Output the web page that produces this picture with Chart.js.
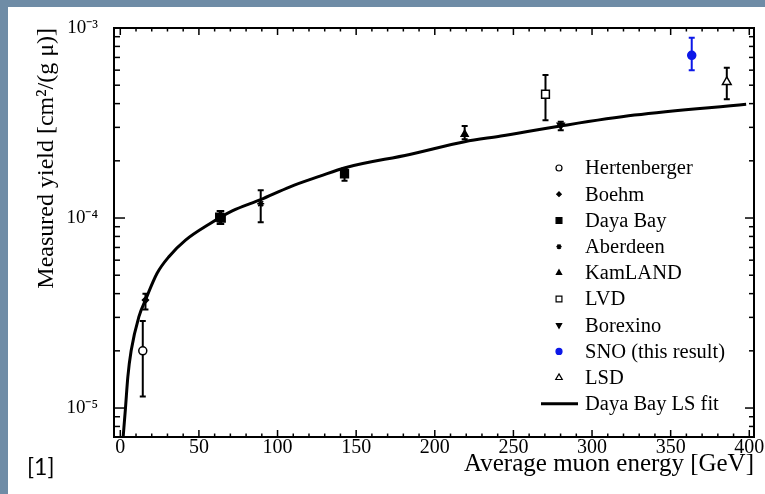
<!DOCTYPE html>
<html>
<head>
<meta charset="utf-8">
<script src="https://cdn.jsdelivr.net/npm/chart.js@4.4.1/dist/chart.umd.min.js"></script>
<style>
  html, body { margin: 0; padding: 0; }
  body { width: 765px; height: 494px; background: #6f8ca6; position: relative; overflow: hidden; }
  .panel { position: absolute; left: 8px; top: 7px; right: 0; bottom: 0; background: #fff; }
  .ref { position: absolute; left: 27px; top: 452px; font: 23px Lato, 'Open Sans', sans-serif; color: #000; }
  #chart { position: absolute; left: 0; top: 0; }
</style>
</head>
<body>
<div class="panel"></div>
<canvas id="chart" width="765" height="494"></canvas>
<div class="ref">[1]</div>
<script>
const xTicks = [0, 50, 100, 150, 200, 250, 300, 350, 400];
const yTicks = [1e-5, 1e-4, 1e-3];
const yTickLabels = ['10⁻⁵', '10⁻⁴', '10⁻³'];

// values: energy [GeV], yield, error bar low / high
const hertenbergerE = [14.3];
const hertenbergerY = [2.0e-5];
const hertenbergerLo = [1.15e-5];
const hertenbergerHi = [2.87e-5];

const boehmE = [16.0];
const boehmY = [3.7e-5];
const boehmLo = [3.3e-5];
const boehmHi = [4.0e-5];

const dayaBayE = [63.2, 64.2, 142.6];
const dayaBayY = [1.01e-4, 1.0e-4, 1.71e-4];
const dayaBayLo = [0.93e-4, 0.93e-4, 1.57e-4];
const dayaBayHi = [1.09e-4, 1.09e-4, 1.83e-4];

const aberdeenE = [89.3];
const aberdeenY = [1.19e-4];
const aberdeenLo = [0.95e-4];
const aberdeenHi = [1.40e-4];

const kamlandE = [219];
const kamlandY = [2.76e-4];
const kamlandLo = [2.6e-4];
const kamlandHi = [3.05e-4];

const lvdE = [270.4];
const lvdY = [4.48e-4];
const lvdLo = [3.27e-4];
const lvdHi = [5.66e-4];

const borexinoE = [280.1];
const borexinoY = [3.08e-4];
const borexinoLo = [2.9e-4];
const borexinoHi = [3.21e-4];

const snoE = [363.4];
const snoY = [7.18e-4];
const snoLo = [5.99e-4];
const snoHi = [8.89e-4];

const lsdE = [385.7];
const lsdY = [5.2e-4];
const lsdLo = [4.22e-4];
const lsdHi = [6.18e-4];

const fitE = [1.8, 3.3, 4.8, 6.9, 11.8, 16.0, 23.4, 30.9, 41.5, 56.4, 71.2, 89.3, 108, 127, 143, 184, 219, 242, 280, 327, 398];
const fitY = [7.0e-6, 1.0e-5, 1.46e-5, 2.0e-5, 3.02e-5, 3.7e-5, 5.12e-5, 6.26e-5, 7.65e-5, 9.27e-5, 1.09e-4, 1.25e-4, 1.46e-4, 1.66e-4, 1.84e-4, 2.16e-4, 2.52e-4, 2.70e-4, 3.05e-4, 3.48e-4, 3.97e-4];

const SERIF = "'Liberation Serif', 'Times New Roman', serif";
const SNO_BLUE = '#0c18e8';

const toPoints = (xs, ys) => xs.map((x, i) => ({ x, y: ys[i] }));

function expSet(label, xs, ys, lo, hi, style) {
  return Object.assign({
    label,
    data: toPoints(xs, ys),
    errLo: lo,
    errHi: hi,
    borderColor: '#000',
    backgroundColor: '#000',
    borderWidth: 1.5,
    pointRadius: 4,
    pointStyle: 'circle',
    rotation: 0,
  }, style);
}

const datasets = [
  expSet('Hertenberger', hertenbergerE, hertenbergerY, hertenbergerLo, hertenbergerHi, { backgroundColor: '#fff', pointRadius: 4 }),
  expSet('Boehm', boehmE, boehmY, boehmLo, boehmHi, { pointStyle: 'rectRot', pointRadius: 3 }),
  expSet('Daya Bay', dayaBayE, dayaBayY, dayaBayLo, dayaBayHi, { pointStyle: 'rect', pointRadius: 5.5 }),
  expSet('Aberdeen', aberdeenE, aberdeenY, aberdeenLo, aberdeenHi, { pointStyle: 'star', pointRadius: 3.5 }),
  expSet('KamLAND', kamlandE, kamlandY, kamlandLo, kamlandHi, { pointStyle: 'triangle', pointRadius: 4 }),
  expSet('LVD', lvdE, lvdY, lvdLo, lvdHi, { pointStyle: 'rect', backgroundColor: '#fff', pointRadius: 5.5 }),
  expSet('Borexino', borexinoE, borexinoY, borexinoLo, borexinoHi, { pointStyle: 'triangle', rotation: 180, pointRadius: 4 }),
  expSet('SNO (this result)', snoE, snoY, snoLo, snoHi, { borderColor: SNO_BLUE, backgroundColor: SNO_BLUE, pointRadius: 4 }),
  expSet('LSD', lsdE, lsdY, lsdLo, lsdHi, { pointStyle: 'triangle', backgroundColor: '#fff', pointRadius: 5 }),
  {
    label: 'Daya Bay LS fit',
    data: toPoints(fitE, fitY),
    showLine: true,
    borderColor: '#000',
    borderWidth: 3,
    pointRadius: 0,
    cubicInterpolationMode: 'monotone',
    isFit: true,
  },
];

// minor tick positions for the inward tick marks
const xMinor = [];
for (let v = 10; v < 400; v += 10) if (v % 50) xMinor.push(v);
const yMinor = [8e-6, 9e-6];
[1e-5, 1e-4].forEach(d => { for (let k = 2; k <= 9; k++) yMinor.push(k * d); });

const errorBars = {
  id: 'errorBars',
  beforeDatasetsDraw(chart) {
    const { ctx, scales: { x, y } } = chart;
    ctx.save();
    ctx.lineWidth = 2;
    chart.data.datasets.forEach(ds => {
      if (!ds.errLo) return;
      ctx.strokeStyle = ds.borderColor;
      ds.data.forEach((p, i) => {
        const px = x.getPixelForValue(p.x);
        const lo = y.getPixelForValue(ds.errLo[i]);
        const hi = y.getPixelForValue(ds.errHi[i]);
        ctx.beginPath();
        ctx.moveTo(px, lo); ctx.lineTo(px, hi);
        ctx.moveTo(px - 3, lo); ctx.lineTo(px + 3, lo);
        ctx.moveTo(px - 3, hi); ctx.lineTo(px + 3, hi);
        ctx.stroke();
      });
    });
    ctx.restore();
  },
};

const axisFrame = {
  id: 'axisFrame',
  afterDatasetsDraw(chart) {
    const { ctx, chartArea: a, scales: { x, y } } = chart;
    const line = (x1, y1, x2, y2) => {
      ctx.beginPath(); ctx.moveTo(x1, y1); ctx.lineTo(x2, y2); ctx.stroke();
    };
    ctx.save();
    ctx.strokeStyle = '#000';
    ctx.lineWidth = 1.5;
    xMinor.forEach(v => {
      const px = x.getPixelForValue(v);
      line(px, a.bottom, px, a.bottom - 3.5);
      line(px, a.top, px, a.top + 3.5);
    });
    xTicks.forEach(v => {
      const px = x.getPixelForValue(v);
      line(px, a.bottom, px, a.bottom - 7);
      line(px, a.top, px, a.top + 7);
    });
    yMinor.forEach(v => {
      const py = y.getPixelForValue(v);
      line(a.left, py, a.left + 6, py);
      line(a.right, py, a.right - 5, py);
    });
    yTicks.forEach(v => {
      const py = y.getPixelForValue(v);
      line(a.left, py, a.left + 11, py);
      line(a.right, py, a.right - 9, py);
    });
    ctx.lineWidth = 2;
    ctx.strokeRect(a.left, a.top, a.right - a.left, a.bottom - a.top);
    ctx.restore();
  },
};

// legend drawn inside the plot, lower right
const insideLegend = {
  id: 'insideLegend',
  afterDraw(chart) {
    const { ctx } = chart;
    const symX = 559, textX = 585, top = 168, step = 26.2;
    ctx.save();
    ctx.font = '20.5px ' + SERIF;
    ctx.textBaseline = 'middle';
    ctx.textAlign = 'left';
    chart.data.datasets.forEach((ds, i) => {
      const yy = top + i * step;
      ctx.strokeStyle = ds.borderColor;
      ctx.fillStyle = ds.backgroundColor || '#000';
      if (ds.isFit) {
        ctx.lineWidth = 3;
        ctx.beginPath(); ctx.moveTo(541, yy); ctx.lineTo(578, yy); ctx.stroke();
      } else {
        ctx.lineWidth = 1.2;
        Chart.helpers.drawPoint(ctx, {
          pointStyle: ds.pointStyle, radius: ds.pointRadius * 0.75,
          rotation: ds.rotation, borderWidth: 1.2,
        }, symX, yy);
      }
      ctx.fillStyle = '#000';
      ctx.fillText(ds.label, textX, yy + 1);
    });
    ctx.restore();
  },
};

new Chart(document.getElementById('chart'), {
  type: 'scatter',
  data: { datasets },
  options: {
    responsive: false,
    animation: false,
    layout: { padding: { top: 28, right: 11, left: 0, bottom: 0 } },
    plugins: { legend: { display: false }, tooltip: { enabled: false } },
    scales: {
      x: {
        type: 'linear',
        min: -4,
        max: 403,
        grid: { display: false, drawTicks: false },
        border: { display: false },
        afterBuildTicks: s => { s.ticks = xTicks.map(v => ({ value: v })); },
        afterFit: s => { s.height = 57; s.paddingLeft = 0; s.paddingRight = 0; },
        ticks: {
          color: '#000',
          font: { family: SERIF, size: 20 },
          padding: -1,
          maxRotation: 0,
          autoSkip: false,
        },
        title: {
          display: true,
          text: 'Average muon energy [GeV]',
          align: 'end',
          color: '#000',
          font: { family: SERIF, size: 25 },
          padding: { top: 0, bottom: 15 },
        },
      },
      y: {
        type: 'logarithmic',
        min: 7.04e-6,
        max: 1e-3,
        grid: { display: false, drawTicks: false },
        border: { display: false },
        afterBuildTicks: s => { s.ticks = yTicks.map(v => ({ value: v })); },
        afterFit: s => { s.width = 114; s.paddingTop = 0; s.paddingBottom = 0; },
        ticks: {
          color: '#000',
          font: { family: SERIF, size: 19 },
          padding: 16,
          callback: (v, i) => yTickLabels[i],
        },
        title: {
          display: true,
          text: 'Measured yield [cm²/(g μ)]',
          align: 'end',
          color: '#000',
          font: { family: SERIF, size: 24 },
          padding: { top: 32, bottom: 0 },
        },
      },
    },
  },
  plugins: [errorBars, axisFrame, insideLegend],
});
</script>
</body>
</html>
